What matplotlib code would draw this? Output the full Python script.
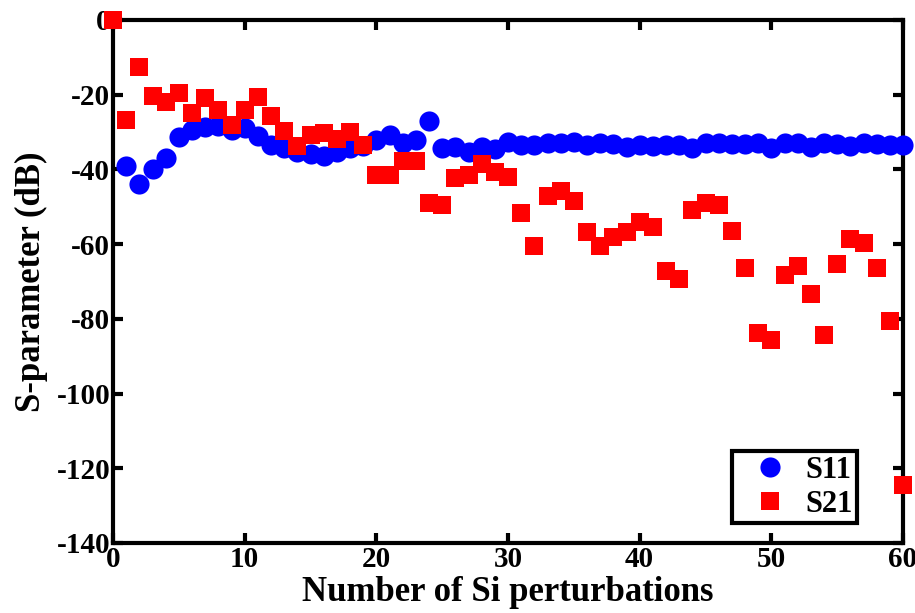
import numpy as np
import matplotlib.pyplot as plt

plt.rcParams['font.family'] = ['Liberation Serif', 'DejaVu Serif']
plt.rcParams['font.weight'] = 'bold'
plt.rcParams['axes.unicode_minus'] = False

n_s11 = np.arange(1, 61)
s11 = [-39, -44, -40, -37, -31.3, -29.5, -28.6, -28.4, -29.4, -29,
       -31, -33.4, -34.3, -35.3, -36, -36.4, -35.3, -34.3, -33.7, -32,
       -30.8, -33, -32, -27, -34.3, -34, -35.3, -34, -34.5, -32.7,
       -33.5, -33.5, -32.8, -33, -32.7, -33.5, -32.8, -33.3, -34, -33.5,
       -33.7, -33.5, -33.4, -34.2, -32.9, -33, -33.3, -33.2, -32.8, -34.3,
       -33, -32.8, -34, -33, -33.3, -33.6, -32.9, -33.2, -33.5, -33.5]

n_s21 = np.arange(0, 61)
s21 = [0, -26.8, -12.6, -20.3, -22, -19.5, -25, -21, -24, -28,
       -24, -20.6, -25.7, -29.7, -33.7, -30.8, -30.2, -31.9, -30, -33.5,
       -41.5, -41.5, -37.7, -37.7, -49, -49.5, -42.3, -41.5, -38.5, -40.7,
       -42, -51.7, -60.5, -47, -45.8, -48.5, -56.7, -60.5, -58, -56.7,
       -54, -55.4, -67.2, -69.3, -50.9, -49, -49.5, -56.5, -66.4, -83.8,
       -85.7, -68.3, -65.8, -73.3, -84.3, -65.3, -58.6, -59.7, -66.4, -80.6,
       -124.5]

fig = plt.figure(figsize=(9.15, 6.13), dpi=100)
ax = fig.add_axes([0.1235, 0.1142, 0.8634, 0.8532])

ax.plot(n_s11, s11, 'o', color='blue', markersize=14.5, markeredgewidth=0,
        label='S11', clip_on=False, zorder=3)
ax.plot(n_s21, s21, 's', color='red', markersize=13.5, markeredgewidth=0,
        label='S21', clip_on=False, zorder=4)

ax.set_xlim(0, 60)
ax.set_ylim(-140, 0)
ax.set_xticks(range(0, 61, 10))
ax.set_yticks(range(-140, 1, 20))

for sp in ax.spines.values():
    sp.set_linewidth(3)
ax.tick_params(direction='in', length=7, width=3, top=True, right=True,
               labelsize=21, pad=2)

ax.set_xlabel('Number of Si perturbations', fontsize=25, fontweight='bold', labelpad=2)
ax.set_ylabel('S-parameter (dB)', fontsize=25, fontweight='bold', labelpad=6)

leg = ax.legend(loc='lower right', bbox_to_anchor=(0.942, 0.038), borderaxespad=0,
                fontsize=22, fancybox=False, framealpha=1, handletextpad=0.05,
                handlelength=2.2, borderpad=0.15, labelspacing=0.15)
leg.get_frame().set_edgecolor('black')
leg.get_frame().set_linewidth(3)

fig.savefig('out.png', dpi=100)
